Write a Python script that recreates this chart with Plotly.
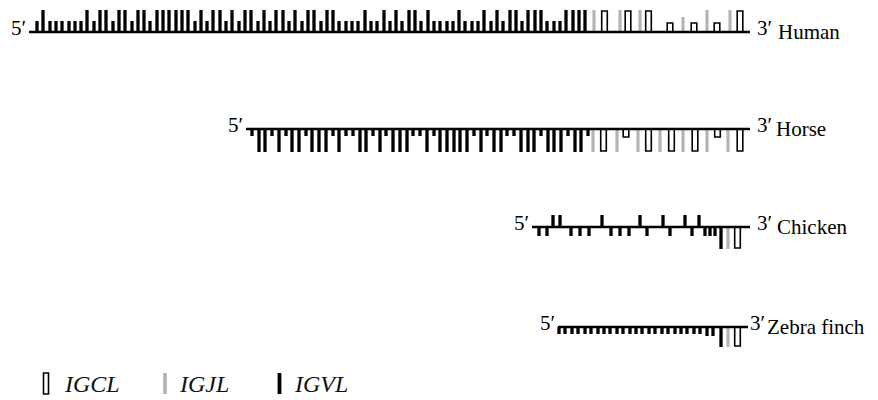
import plotly.graph_objects as go

FONT = "Liberation Serif"
GREY = "#b4b4b4"

# ---------------- data ----------------
species = ["Human", "Horse", "Chicken", "Zebra finch"]

# locus extents (same axis units as gene positions)
human_line = [29, 750]
horse_line = [246, 750]
chicken_line = [532, 750]
zebra_line = [558, 748]

# Human: all genes drawn above the line
human_v_pos = [37, 43, 50, 56, 62, 69, 75, 81, 87, 94, 100, 106, 113, 119, 125, 132, 138, 144,
               150, 157, 163, 169, 176, 182, 188, 195, 201, 207, 213, 220, 226, 232, 239, 245, 251,
               258, 264, 270, 276, 283, 289, 295, 302, 308, 314, 321, 327, 333, 339, 346, 352, 358, 365,
               371, 377, 384, 390, 396, 402, 409, 415, 421, 428, 434, 440, 447, 453, 459, 465, 472,
               478, 484, 491, 497, 503, 510, 516, 522, 528, 535, 541, 547, 554, 560, 566, 573, 579, 585]
human_v_size = list("STSSSSSSTSTTSTTSTT" "STTTTTTSTSTTSTSTT" "STSTTSTSTTSTTSSSSTS"
                    "STSTSTTSTSSSSTSSSTS" "TSTTSTTTSSSTTTT")
human_j_pos = [594, 620, 640, 683, 707, 730]
human_j_size = list("TTTMTT")
human_c_pos = [604.5, 628, 648.5, 670, 694, 717, 740]
human_c_size = list("TTTSSST")

# Horse: all genes drawn below the line
horse_v_pos = [252, 259, 265, 272, 279, 286, 292, 299, 306, 312, 319, 326, 333, 339, 346, 353, 360,
               366, 373, 380, 386, 393, 400, 407, 413, 420, 427, 434, 440, 447, 454, 460, 467, 474,
               481, 487, 494, 501, 507, 514, 521, 528, 534, 541, 548, 554, 561, 568, 575, 581, 588]
horse_v_size = list("STTSTSTTSTTTSTSSTTSTSTTTSSTSTTTTTSTSTTS" "STTTSTTTSTTS")
horse_j_pos = [593, 617, 638, 660, 683, 707, 728]
horse_j_size = list("TTTTTTT")
horse_c_pos = [603.5, 626, 648.5, 671.5, 695, 717.5, 740]
horse_c_size = list("TSTTTST")

# Chicken: U = above the line, D = short below, L = long below
chicken_v_pos = [539, 547, 553, 560, 571, 580, 589, 602, 611, 620, 629, 640, 647, 663, 670,
                 685, 692, 699, 705, 710, 715, 721]
chicken_v_size = ["D", "D", "U", "U", "D", "D", "D", "U", "D", "D", "D", "U", "D", "U", "D",
                  "U", "D", "U", "D", "D", "D", "L"]
chicken_j_pos = [728]
chicken_j_size = ["L"]
chicken_c_pos = [737.5]
chicken_c_size = ["L"]

# Zebra finch
zebra_v_pos = [559, 565, 572, 578, 585, 591, 598, 604, 610, 617, 623, 630, 636, 642, 649, 655,
               662, 668, 675, 681, 687, 694, 700, 707, 713, 721]
zebra_v_size = list("SSSSSSSSSSSSSSSSSSSSSSSMML")
zebra_j_pos = [728]
zebra_j_size = ["L"]
zebra_c_pos = [737.5]
zebra_c_size = ["L"]

legend_labels = ["IGCL", "IGJL", "IGVL"]

# ---------------- drawing ----------------
fig = go.Figure()

STYLE = {
    "V": dict(color="black", line=dict(width=0)),
    "J": dict(color=GREY, line=dict(width=0)),
    "C": dict(color="white", line=dict(color="black", width=1.6)),
}
WIDTH = {"V": 3.3, "J": 3.2, "C": 5.6}


def add_genes(pos, sizes, base, lmap, kind, width=None):
    fig.add_trace(go.Bar(
        x=pos, y=[lmap[s] for s in sizes], base=[base] * len(pos),
        width=width or WIDTH[kind], marker=STYLE[kind], showlegend=False,
        hoverinfo="skip"))


rows = [
    dict(base=32, line=human_line,
         genes=[(human_v_pos, human_v_size, {"T": -22, "S": -11}, "V"),
                (human_j_pos, human_j_size, {"T": -22, "M": -15, "S": -11}, "J"),
                (human_c_pos, human_c_size, {"T": -21, "S": -9}, "C")]),
    dict(base=129, line=horse_line,
         genes=[(horse_v_pos, horse_v_size, {"T": 23, "S": 7}, "V"),
                (horse_j_pos, horse_j_size, {"T": 23, "S": 7}, "J"),
                (horse_c_pos, horse_c_size, {"T": 22, "S": 8}, "C")]),
    dict(base=227, line=chicken_line,
         genes=[(chicken_v_pos, chicken_v_size, {"U": -12, "D": 9, "L": 22}, "V"),
                (chicken_j_pos, chicken_j_size, {"L": 22}, "J"),
                (chicken_c_pos, chicken_c_size, {"L": 21}, "C")]),
    dict(base=327, line=zebra_line,
         genes=[(zebra_v_pos, zebra_v_size, {"S": 7, "M": 9, "L": 20}, "V"),
                (zebra_j_pos, zebra_j_size, {"L": 20}, "J"),
                (zebra_c_pos, zebra_c_size, {"L": 19}, "C")]),
]

annotations = []
label_x = [(755, 776), (755, 774), (755, 775), (748, 765)]
for row, name, (x3, xn) in zip(rows, species, label_x):
    b = row["base"]
    for pos, sizes, lmap, kind in row["genes"]:
        add_genes(pos, sizes, b, lmap, kind)
    fig.add_trace(go.Scatter(x=row["line"], y=[b, b], mode="lines",
                             line=dict(color="black", width=2.6),
                             showlegend=False, hoverinfo="skip"))
    annotations.append(dict(x=row["line"][0] - 1, y=b - 4, text="5′", xanchor="right",
                            yanchor="middle", showarrow=False,
                            font=dict(family=FONT, size=21, color="black")))
    annotations.append(dict(x=x3, y=b - 4, text="3′", xanchor="left", yanchor="middle",
                            showarrow=False, font=dict(family=FONT, size=21, color="black")))
    annotations.append(dict(x=xn, y=b, text=name, xanchor="left", yanchor="middle",
                            showarrow=False, font=dict(family=FONT, size=21, color="black")))

# legend (drawn manually)
leg_kind = ["C", "J", "V"]
leg_x = [46, 165, 279.5]
leg_tx = [62, 177, 292]
for k, xx, tx, lab in zip(leg_kind, leg_x, leg_tx, legend_labels):
    fig.add_trace(go.Bar(x=[xx], y=[-21], base=[394], width=[5 if k == "C" else 3.8],
                         marker=STYLE[k], showlegend=False, hoverinfo="skip"))
    annotations.append(dict(x=tx, y=384, text="<i>%s</i>" % lab, xanchor="left",
                            yanchor="middle", showarrow=False,
                            font=dict(family=FONT, size=24, color="#111")))

fig.update_layout(
    width=878, height=400, margin=dict(l=0, r=0, t=0, b=0),
    paper_bgcolor="white", plot_bgcolor="white", barmode="overlay",
    xaxis=dict(range=[0, 878], visible=False, fixedrange=True),
    yaxis=dict(range=[400, 0], visible=False, fixedrange=True),
    annotations=annotations,
)
fig.write_html("out.html", config={"displayModeBar": False},
               post_script="document.body.style.margin='0';document.body.style.overflow='hidden';")
